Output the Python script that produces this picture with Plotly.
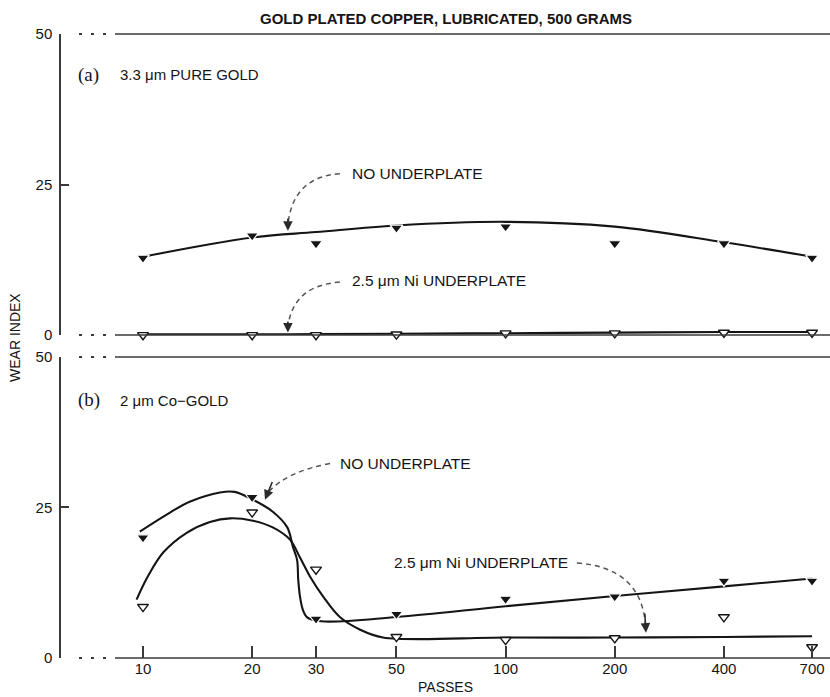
import math
import plotly.graph_objects as go

# ---------------- data ----------------
passes = [10, 20, 30, 50, 100, 200, 400, 700]

# (a) 3.3 um pure gold
a_noup_pts = [12.8, 16.5, 15.2, 17.8, 18.0, 15.2, 15.2, 12.8]
a_ni_pts = [0.0, 0.0, 0.0, 0.1, 0.3, 0.3, 0.4, 0.4]
a_noup_curve_x = [10, 20, 30, 50, 100, 200, 400, 700]
a_noup_curve_y = [13.0, 16.2, 17.1, 18.2, 18.8, 18.0, 15.4, 13.0]
a_ni_curve_x = [10, 20, 30, 50, 100, 200, 400, 700]
a_ni_curve_y = [0.1, 0.1, 0.15, 0.2, 0.3, 0.4, 0.5, 0.5]

# (b) 2 um Co-gold
b_noup_pts = [20.0, 26.7, 6.5, 7.3, 9.8, 10.2, 12.8, 12.8]
b_ni_pts = [8.5, 24.2, 14.7, 3.5, 3.0, 3.3, 6.8, 1.8]
b_noup_curve_x = [9.8, 11.9, 13.5, 16.3, 17.9, 20.1, 22.8, 25.0, 25.9, 26.6,
                  26.8, 27.1, 27.6, 28.3, 31, 50, 100, 200, 400, 700]
b_noup_curve_y = [21.0, 24.2, 26.0, 27.5, 27.6, 26.3, 24.3, 21.7, 18.5, 16.3,
                  13.0, 10.2, 8.0, 6.8, 6.1, 6.8, 8.6, 10.3, 11.9, 13.2]
b_ni_curve_x = [9.6, 10.3, 11.4, 13.2, 15.3, 17.4, 20.1, 22.8, 25.4, 27.1,
                28.9, 31.4, 34.9, 39.7, 45.9, 100, 200, 400, 700]
b_ni_curve_y = [9.7, 13.5, 17.6, 20.8, 22.6, 23.2, 22.8, 21.7, 19.7, 16.7,
                13.5, 10.2, 6.8, 4.7, 3.4, 3.4, 3.4, 3.5, 3.6]

x_ticks = [10, 20, 30, 50, 100, 200, 400, 700]
x_tick_text = ["10", "20", "30", "50", "100", "200", "400", "700"]
y_ticks = [0, 25, 50]

# ---------------- layout geometry ----------------
X0, X1 = 0.7739, 2.8946
TOP_DOM = [0.5176, 1.0]
BOT_DOM = [0.0, 0.4824]
INK = "#151515"
AX = "#3a3a3a"
FONT = "Liberation Sans, Arial, sans-serif"


def px(v):
    return (math.log10(v) - X0) / (X1 - X0)


def py(v, dom):
    return dom[0] + v / 50.0 * (dom[1] - dom[0])


fig = go.Figure()

curve_style = dict(mode="lines", line=dict(color=INK, width=2.1, shape="spline", smoothing=1.0),
                   hoverinfo="skip", showlegend=False)
filled = dict(mode="markers", marker=dict(symbol="triangle-down", size=11, color=INK,
                                           line=dict(color="white", width=1.2)),
              showlegend=False, cliponaxis=False)
hollow = dict(mode="markers", marker=dict(symbol="triangle-down", size=9.5, color="white",
                                           line=dict(color=INK, width=1.4)),
              showlegend=False, cliponaxis=False)

# top panel
fig.add_trace(go.Scatter(x=a_noup_curve_x, y=a_noup_curve_y, xaxis="x", yaxis="y", **curve_style))
fig.add_trace(go.Scatter(x=a_ni_curve_x, y=a_ni_curve_y, xaxis="x", yaxis="y", **curve_style))
fig.add_trace(go.Scatter(x=passes, y=a_noup_pts, xaxis="x", yaxis="y", **filled))
fig.add_trace(go.Scatter(x=passes, y=a_ni_pts, xaxis="x", yaxis="y", **hollow))
# bottom panel
fig.add_trace(go.Scatter(x=b_noup_curve_x, y=b_noup_curve_y, xaxis="x2", yaxis="y2", **curve_style))
fig.add_trace(go.Scatter(x=b_ni_curve_x, y=b_ni_curve_y, xaxis="x2", yaxis="y2", **curve_style))
fig.add_trace(go.Scatter(x=passes, y=b_noup_pts, xaxis="x2", yaxis="y2", **filled))
fig.add_trace(go.Scatter(x=passes, y=b_ni_pts, xaxis="x2", yaxis="y2", **hollow))

shapes = []
# broken horizontal frame lines (dots then solid)
for dom in (TOP_DOM, BOT_DOM):
    for yv in (0, 50):
        yy = py(yv, dom)
        shapes.append(dict(type="line", xref="paper", yref="paper", x0=0.0234, x1=0.0611,
                           y0=yy, y1=yy, line=dict(color=AX, width=2, dash="3px,9px")))
        shapes.append(dict(type="line", xref="paper", yref="paper", x0=0.0702, x1=1.0,
                           y0=yy, y1=yy, line=dict(color=AX, width=1.6)))

# curved dashed leader arrows: (start, control, end, tip) in (passes, wear index)
leaders = [
    (TOP_DOM, (34.9, 26.8), (25.8, 26.2), (25.1, 18.2), (25.1, 17.3)),
    (TOP_DOM, (34.9, 8.8), (25.8, 8.2), (25.1, 1.2), (25.1, 0.4)),
    (BOT_DOM, (32.8, 32.3), (25.0, 31.0), (22.2, 27.6), (21.7, 26.3)),
    (BOT_DOM, (157.3, 15.8), (236.0, 15.0), (243.0, 5.6), (243.9, 4.2)),
]
annotations = []
for dom, s, c, e, tip in leaders:
    path = "M {:.4f},{:.4f} Q {:.4f},{:.4f} {:.4f},{:.4f}".format(
        px(s[0]), py(s[1], dom), px(c[0]), py(c[1], dom), px(e[0]), py(e[1], dom))
    shapes.append(dict(type="path", xref="paper", yref="paper", path=path,
                       line=dict(color="#555555", width=1.5, dash="5px,4px")))
    annotations.append(dict(xref="paper", yref="paper", x=px(tip[0]), y=py(tip[1], dom),
                            ax=(px(e[0]) - px(tip[0])) * 769 * 2.2,
                            ay=-(py(e[1], dom) - py(tip[1], dom)) * 624 * 2.2 - 2,
                            text="", showarrow=True, arrowhead=2, arrowsize=1.2,
                            arrowwidth=1.6, arrowcolor="#2a2a2a"))

lab_font = dict(family=FONT, size=15.5, color=INK)
labels = [
    (TOP_DOM, 37.2, 26.8, "NO UNDERPLATE", "left"),
    (TOP_DOM, 37.2, 9.0, "2.5 \u03bcm Ni UNDERPLATE", "left"),
    (BOT_DOM, 34.5, 32.3, "NO UNDERPLATE", "left"),
    (BOT_DOM, 150.5, 15.8, "2.5 \u03bcm Ni UNDERPLATE", "right"),
]
for dom, xv, yv, txt, anc in labels:
    annotations.append(dict(xref="paper", yref="paper", x=px(xv), y=py(yv, dom), text=txt,
                            showarrow=False, xanchor=anc, yanchor="middle", font=lab_font))

# panel captions
annotations += [
    dict(xref="paper", yref="paper", x=(76 - 61) / 769, y=py(43.2, TOP_DOM), text="(a)",
         showarrow=False, xanchor="left", yanchor="middle",
         font=dict(family="Liberation Serif, serif", size=19, color=INK)),
    dict(xref="paper", yref="paper", x=(118 - 61) / 769, y=py(43.2, TOP_DOM),
         text="3.3 \u03bcm PURE GOLD", showarrow=False, xanchor="left", yanchor="middle",
         font=dict(family=FONT, size=15, color=INK)),
    dict(xref="paper", yref="paper", x=(76 - 61) / 769, y=py(42.8, BOT_DOM), text="(b)",
         showarrow=False, xanchor="left", yanchor="middle",
         font=dict(family="Liberation Serif, serif", size=19, color=INK)),
    dict(xref="paper", yref="paper", x=(118 - 61) / 769, y=py(42.8, BOT_DOM),
         text="2 \u03bcm Co\u2212GOLD", showarrow=False, xanchor="left", yanchor="middle",
         font=dict(family=FONT, size=15, color=INK)),
    # title
    dict(xref="paper", yref="paper", x=0.5, y=(658 - 18) / 624,
         text="<b>GOLD PLATED COPPER, LUBRICATED, 500 GRAMS</b>", showarrow=False,
         xanchor="center", yanchor="middle", font=dict(family=FONT, size=15, color=INK)),
    # axis titles
    dict(xref="paper", yref="paper", x=0.5, y=(658 - 687) / 624, text="PASSES",
         showarrow=False, xanchor="center", yanchor="middle",
         font=dict(family=FONT, size=14, color=INK)),
    dict(xref="paper", yref="paper", x=(15 - 61) / 769, y=(658 - 338) / 624, text="WEAR INDEX",
         showarrow=False, xanchor="center", yanchor="middle", textangle=-90,
         font=dict(family=FONT, size=14, color=INK)),
]

tick_font = dict(family=FONT, size=15, color=INK)
common_x = dict(type="log", range=[X0, X1], showgrid=False, zeroline=False, showline=False)
common_y = dict(range=[0, 50], tickvals=y_ticks, ticks="inside", ticklen=8, tickwidth=1.5,
                tickcolor=AX, showline=True, linecolor=AX, linewidth=1.5, showgrid=False,
                zeroline=False, tickfont=tick_font, ticklabelstandoff=4)

fig.update_layout(
    width=830, height=697,
    margin=dict(l=61, r=0, t=34, b=39),
    paper_bgcolor="white", plot_bgcolor="white",
    xaxis=dict(domain=[0, 1], anchor="y", showticklabels=False, ticks="", **common_x),
    xaxis2=dict(domain=[0, 1], anchor="y2", tickvals=x_ticks, ticktext=x_tick_text,
                ticks="inside", ticklen=12, tickwidth=1.5, tickcolor=AX, tickfont=tick_font,
                **common_x),
    yaxis=dict(domain=TOP_DOM, anchor="x", **common_y),
    yaxis2=dict(domain=BOT_DOM, anchor="x2", **common_y),
    shapes=shapes,
    annotations=annotations,
    showlegend=False,
)

fig.write_html("out.html")
